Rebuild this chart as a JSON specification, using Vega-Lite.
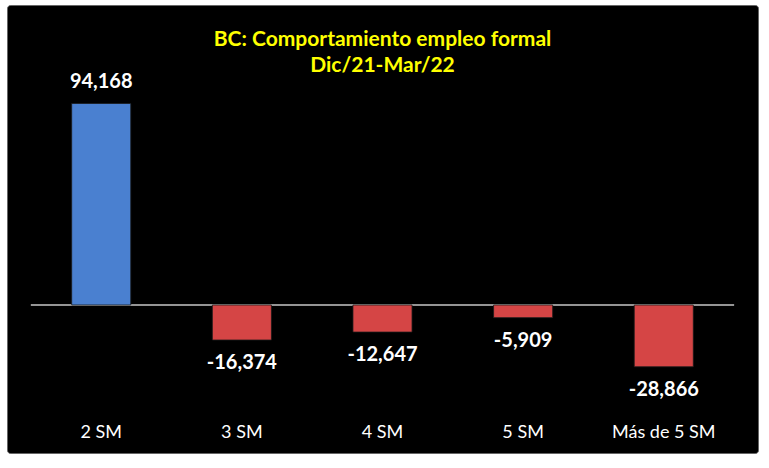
{
  "$schema": "https://vega.github.io/schema/vega-lite/v6.json",
  "description": "BC: Comportamiento empleo formal, Dic/21-Mar/22",
  "background": "white",
  "autosize": {"type": "none"},
  "padding": {"left": 7, "top": 5, "right": 11, "bottom": 15},
  "width": 751,
  "height": 448,
  "config": {
    "view": {"fill": "black", "stroke": "#666666", "strokeWidth": 1, "cornerRadius": 3},
    "font": "Lato"
  },
  "title": {
    "text": ["BC: Comportamiento empleo formal", "Dic/21-Mar/22"],
    "color": "#ffff00",
    "font": "Lato",
    "fontSize": 21,
    "fontWeight": "bold",
    "anchor": "middle",
    "lineHeight": 26,
    "baseline": "top",
    "offset": -71
  },
  "data": {
    "values": [
      {"salario": "2 SM", "empleo": 94168},
      {"salario": "3 SM", "empleo": -16374},
      {"salario": "4 SM", "empleo": -12647},
      {"salario": "5 SM", "empleo": -5909},
      {"salario": "Más de 5 SM", "empleo": -28866}
    ]
  },
  "transform": [
    {"calculate": "replace(format(datum.empleo, ','), '\u2212', '-')", "as": "etiqueta"}
  ],
  "encoding": {
    "x": {
      "field": "salario",
      "type": "nominal",
      "sort": null,
      "scale": {
        "domain": ["2 SM", "3 SM", "4 SM", "5 SM", "Más de 5 SM"],
        "paddingInner": 0.58,
        "paddingOuter": 0.46
      },
      "axis": {
        "title": null,
        "orient": "bottom",
        "offset": -32,
        "domain": false,
        "ticks": false,
        "labelAngle": 0,
        "labelPadding": 2,
        "labelColor": "white",
        "labelFont": "Lato",
        "labelFontSize": 18
      }
    }
  },
  "layer": [
    {
      "mark": {"type": "rule", "color": "#9a9a9a", "strokeWidth": 1},
      "encoding": {
        "x": {"datum": "2 SM", "bandPosition": -0.69},
        "x2": {"datum": "Más de 5 SM", "bandPosition": 1.69},
        "y": {"datum": 0, "type": "quantitative", "scale": {"domain": [-69159, 140187], "nice": false}, "axis": null}
      }
    },
    {
      "mark": {"type": "bar", "stroke": "#1a1a1a", "strokeWidth": 0.8},
      "encoding": {
        "y": {"field": "empleo", "type": "quantitative", "scale": {"domain": [-69159, 140187], "nice": false}, "axis": null},
        "fill": {
          "condition": {"test": "datum.empleo > 0", "value": "#4a80d0"},
          "value": "#d54545"
        }
      }
    },
    {
      "transform": [{"filter": "datum.empleo > 0"}],
      "mark": {"type": "text", "color": "white", "font": "Lato", "fontWeight": "bold", "fontSize": 20, "baseline": "middle", "dy": -21},
      "encoding": {
        "y": {"field": "empleo", "type": "quantitative"},
        "text": {"field": "etiqueta", "type": "nominal"}
      }
    },
    {
      "transform": [{"filter": "datum.empleo < 0"}],
      "mark": {"type": "text", "color": "white", "font": "Lato", "fontWeight": "bold", "fontSize": 20, "baseline": "middle", "dy": 23},
      "encoding": {
        "y": {"field": "empleo", "type": "quantitative"},
        "text": {"field": "etiqueta", "type": "nominal"}
      }
    }
  ]
}
